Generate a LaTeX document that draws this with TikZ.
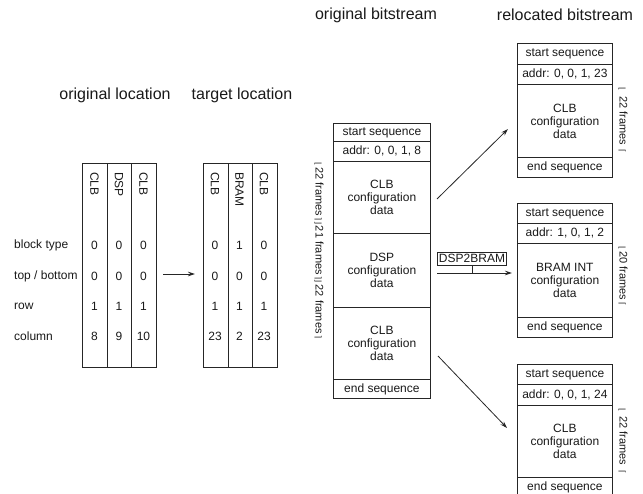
\documentclass[tikz,border=0pt]{standalone}
\usepackage{fontspec}
\setmainfont{Liberation Sans}
\newfontfamily\symff{DejaVu Sans}
\newcommand\symf{\symff\fontsize{8}{8}\selectfont}
\usetikzlibrary{arrows.meta}
\newcommand\fsA{\fontsize{12}{13}\selectfont}
\newcommand\fsT{\fontsize{16}{19}\selectfont}
\newcommand\fsF{\fontsize{11}{13}\selectfont}
\colorlet{linec}{black!85}
\begin{document}
\begin{tikzpicture}[x=1pt,y=-1pt,
  colbox/.style={draw=linec, line width=0.8pt, minimum width=24.5pt, minimum height=204pt, anchor=north west, inner sep=0pt},
  brow/.style={draw=linec, line width=0.8pt, anchor=north west, inner sep=0pt, align=center, font=\fsA, text=black!90},
  txt/.style={inner sep=0pt, font=\fsA, text=black!90},
  title/.style={inner sep=0pt, font=\fsT, text=black!90},
  hdr/.style={inner sep=0pt, font=\fsA, text=black!90, rotate=-90, anchor=west},
  flabel/.style={inner sep=0pt, font=\fsF, text=black!90, rotate=-90},
  arr/.style={draw=linec, line width=0.8pt, -{Stealth[length=7pt,width=4.5pt]}}]
\useasboundingbox (0,0) rectangle (643,494);

% titles
\node[title] (t1) at (115,95) {original location};
\node[title] (t2) at (242,95) {target location};
\node[title] (t3) at (376,15) {original bitstream};
\node[title] (t4) at (565,15) {relocated bitstream};

% left table
\node[colbox] (oc1) at (82,163) {};
\node[colbox] (oc2) at (106.5,163) {};
\node[colbox] (oc3) at (131,163) {};
\node[hdr] (oh1) at (94.5,172) {CLB};
\node[hdr] (oh2) at (119,172) {DSP};
\node[hdr] (oh3) at (143.5,172) {CLB};

% right table
\node[colbox] (tc1) at (203,163) {};
\node[colbox] (tc2) at (227.5,163) {};
\node[colbox] (tc3) at (252,163) {};
\node[hdr] (th1) at (215,172) {CLB};
\node[hdr] (th2) at (239.5,172) {BRAM};
\node[hdr] (th3) at (264,172) {CLB};

% row labels
\node[txt, anchor=west] (r1) at (14,245) {block type};
\node[txt, anchor=west] (r2) at (14,276) {top / bottom};
\node[txt, anchor=west] (r3) at (14,306) {row};
\node[txt, anchor=west] (r4) at (14,336) {column};

% values
\foreach \y/\a/\b/\c/\d/\e/\f [count=\i] in {245/0/0/0/0/1/0, 276/0/0/0/0/0/0, 306/1/1/1/1/1/1, 336/8/9/10/23/2/23}{
  \node[txt] (ov\i a) at (94.5,\y) {\a};
  \node[txt] (ov\i b) at (119,\y) {\b};
  \node[txt] (ov\i c) at (143.5,\y) {\c};
  \node[txt] (tv\i a) at (215,\y) {\d};
  \node[txt] (tv\i b) at (239.5,\y) {\e};
  \node[txt] (tv\i c) at (264,\y) {\f};
}
\draw[arr, shorten <=7pt, shorten >=8pt] (oc3.east |- 0,274) -- (tc1.west |- 0,274);

% original bitstream
\node[brow, minimum width=97pt, minimum height=18pt] (os) at (333,123) {start sequence};
\node[brow, minimum width=97pt, minimum height=20pt] (oa) at (333,141) {addr: 0, 0, 1, 8};
\node[brow, minimum width=97pt, minimum height=72pt] (od1) at (333,161) {CLB\\configuration\\data};
\node[brow, minimum width=97pt, minimum height=74pt] (od2) at (333,233) {DSP\\configuration\\data};
\node[brow, minimum width=97pt, minimum height=72pt] (od3) at (333,307) {CLB\\configuration\\data};
\node[brow, minimum width=97pt, minimum height=19pt] (oe) at (333,379) {end sequence};
\node[flabel, anchor=west] (fl) at (319,162) {{\symf ⌊}\,22 frames\,{\symf ⌉}{\symf ⌋}\,21 frames\,{\symf ⌉}{\symf ⌋}\,22 frames\,{\symf ⌉}};

% relocated top
\node[brow, minimum width=95pt, minimum height=21pt] (rs1) at (517,43) {start sequence};
\node[brow, minimum width=95pt, minimum height=20pt] (ra1) at (517,64) {addr: 0, 0, 1, 23};
\node[brow, minimum width=95pt, minimum height=73pt] (rd1) at (517,84) {CLB\\configuration\\data};
\node[brow, minimum width=95pt, minimum height=20pt] (re1) at (517,157) {end sequence};
\node[flabel] (fr1) at (623,120.5) {{\symf ⌊}\hspace{5pt}22 frames\hspace{5pt}{\symf ⌈}};

% relocated middle
\node[brow, minimum width=95pt, minimum height=20pt] (rs2) at (517,203) {start sequence};
\node[brow, minimum width=95pt, minimum height=20pt] (ra2) at (517,223) {addr: 1, 0, 1, 2};
\node[brow, minimum width=95pt, minimum height=74pt] (rd2) at (517,243) {BRAM INT\\configuration\\data};
\node[brow, minimum width=95pt, minimum height=20pt] (re2) at (517,317) {end sequence};
\node[flabel] (fr2) at (623,276) {{\symf ⌊}\hspace{2pt}20 frames\hspace{2pt}{\symf ⌈}};

% relocated bottom
\node[brow, minimum width=95pt, minimum height=20pt] (rs3) at (517,364) {start sequence};
\node[brow, minimum width=95pt, minimum height=21pt] (ra3) at (517,384) {addr: 0, 0, 1, 24};
\node[brow, minimum width=95pt, minimum height=72pt] (rd3) at (517,405) {CLB\\configuration\\data};
\node[brow, minimum width=95pt, minimum height=20pt] (re3) at (517,477) {end sequence};
\node[flabel] (fr3) at (623,441) {{\symf ⌊}\hspace{5pt}22 frames\hspace{5pt}{\symf ⌈}};

% connectors
\coordinate (a1s) at (437,199);
\coordinate (a1e) at (508,129);
\coordinate (a3s) at (438,356);
\coordinate (a3e) at (507,428);
\coordinate (a2s) at (437,273);
\coordinate (a2e) at (512,273);
\draw[arr] (a1s) -- (a1e);
\draw[arr] (a3s) -- (a3e);
\draw[arr] (a2s) -- (a2e);
\node[draw=linec, line width=0.7pt, inner xsep=1.5pt, inner ysep=0pt, minimum height=13pt, font=\fsA, text=black!90] (lab) at (472,258.5) {DSP2BRAM};
\draw[draw=linec, line width=0.7pt] (lab.south) -- (lab.south |- a2s);
\end{tikzpicture}
\end{document}
